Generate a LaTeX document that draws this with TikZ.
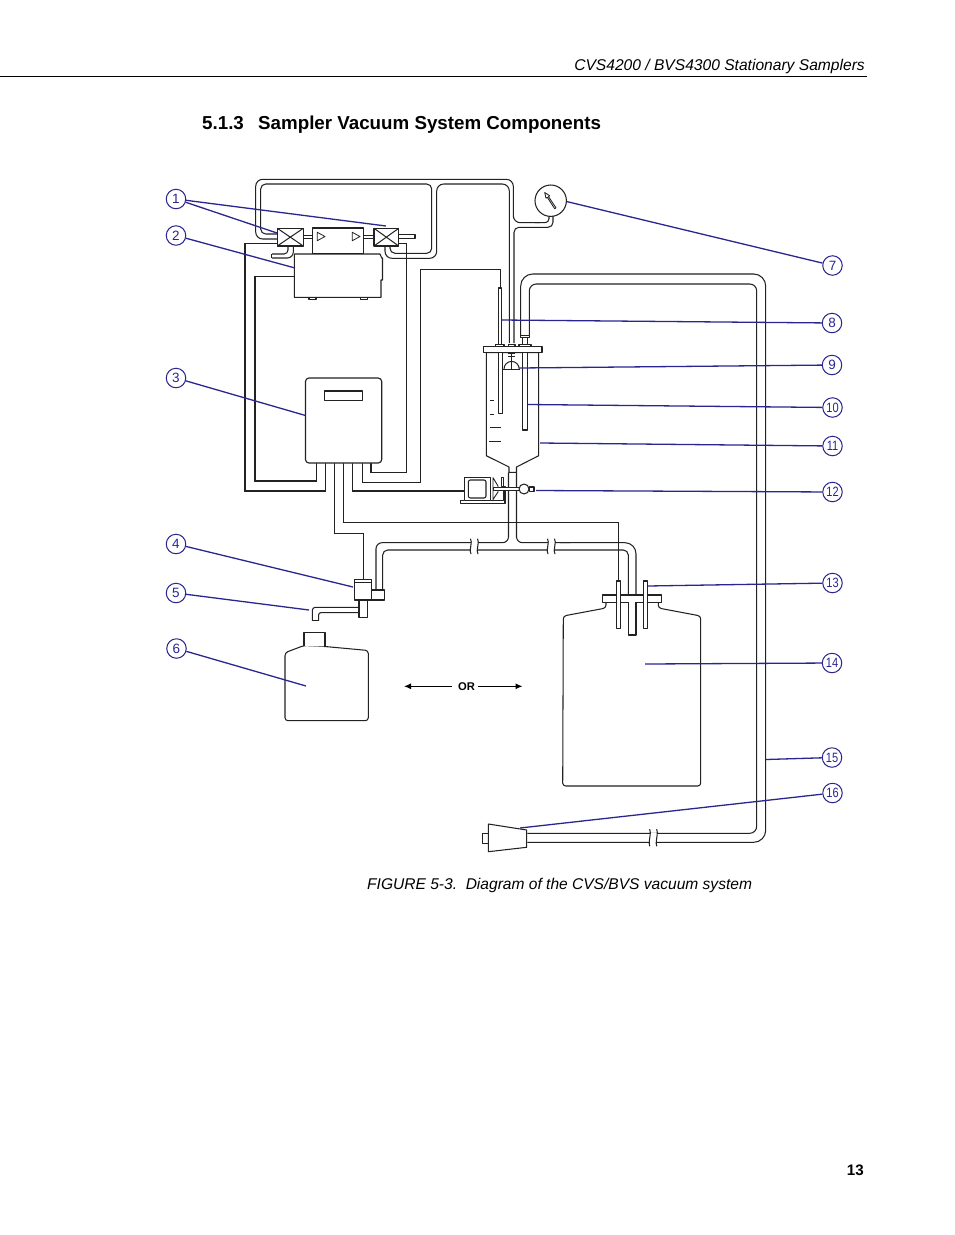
\documentclass[tikz,border=0pt]{standalone}
\usepackage{fontspec}
\setmainfont{Liberation Sans}
\usetikzlibrary{arrows.meta}
\definecolor{leadblue}{HTML}{2A2690}
\definecolor{ink}{HTML}{222222}
\newcommand{\pipebreak}[3]{%
  \fill[white] (#1+1,#2-0.5) rectangle (#1+8,#3+0.5);
  \draw[pipe] (#1+1,#2-4) .. controls (#1+3.5,#2-1) and (#1-1,#3+1) .. (#1+1.5,#3+4);
  \draw[pipe] (#1+8,#2-4) .. controls (#1+10.5,#2-1) and (#1+6,#3+1) .. (#1+8.5,#3+4);
}
\newcommand{\callout}[3]{\node[callnum] (#1) at (#2,#3) {\fontsize{13.5}{14}\selectfont\ifnum#1>9 \addfontfeature{FakeStretch=0.82}\fi\number#1};}
\tikzset{
  pipe/.style={draw=ink,line width=1.05pt,line join=round},
  wire/.style={draw=ink,line width=1.05pt,line join=miter},
  part/.style={draw=ink,line width=1.05pt,fill=white,line join=round},
  callnum/.style={circle,draw=leadblue,line width=1pt,minimum size=19.5pt,inner sep=0pt,text=leadblue,fill=white},
  leader/.style={draw=leadblue,line width=1.3pt},
  txt/.style={inner sep=0pt,text=black,anchor=base west}
}
\begin{document}
\begin{tikzpicture}[x=1pt,y=-1pt]
\useasboundingbox (0,0) rectangle (954,1235);
\fill[white] (0,0) rectangle (954,1235);
% page furniture
\draw[black,line width=0.9pt] (0,76.5) -- (867,76.5);
\node[txt,anchor=base east] (hdr) at (865,70.5) {\fontsize{15.6}{18}\selectfont\itshape CVS4200 / BVS4300 Stationary Samplers};
\node[txt] (secno) at (202,129) {\fontsize{18.75}{20}\selectfont\bfseries 5.1.3};
\node[txt] (sectitle) at (258,129) {\fontsize{18.75}{20}\selectfont\bfseries Sampler Vacuum System Components};
\node[txt] (caption) at (367,889.5) {\fontsize{15.56}{18}\selectfont\itshape FIGURE 5-3.\ \ Diagram of the CVS/BVS vacuum system};
\node[txt,anchor=base east] (pageno) at (864,1175) {\fontsize{15.2}{18}\selectfont\bfseries 13};

% wires from controller
\draw[wire] (277,243.3) -- (245,243.3) -- (245,491) -- (325.7,491) -- (325.7,463);
\draw[wire] (294.3,276.7) -- (255,276.7) -- (255,481) -- (316.7,481) -- (316.7,463);
\draw[wire] (398.7,243.3) -- (406.7,243.3) -- (406.7,472.7) -- (371,472.7) -- (371,463);
\draw[wire] (500.7,288) -- (500.7,269.3) -- (420.3,269.3) -- (420.3,482.3) -- (362.3,482.3) -- (362.3,463);
\draw[wire] (352.7,463) -- (352.7,491) -- (464,491);
\draw[wire] (343.3,463) -- (343.3,522.7) -- (618.7,522.7) -- (618.7,581);
\draw[wire] (334.3,463) -- (334.3,533.3) -- (363.3,533.3) -- (363.3,579.3);

% upper pipes
\draw[pipe,rounded corners=7pt] (277,239) -- (255.7,239) -- (255.7,179.3) -- (513.3,179.3) -- (513.3,222.7) -- (540,222.7);
\draw[pipe,rounded corners=4pt] (535,222.7) -- (549,222.7) -- (549,215);
\draw[pipe,rounded corners=5pt] (277,234) -- (260.7,234) -- (260.7,184) -- (431.7,184) -- (431.7,253.3) -- (390,253.3) -- (390,246);
\draw[pipe,rounded corners=7pt] (385,246) -- (385,258.3) -- (436.7,258.3) -- (436.7,184) -- (509.3,184) -- (509.3,343);
\draw[pipe,rounded corners=5pt] (553,215) -- (553,227.3) -- (514,227.3) -- (514,343);
\draw[pipe,rounded corners=4pt] (288,246) -- (288,254) -- (272,254);
\draw[pipe,rounded corners=6pt] (293.3,246) -- (293.3,258) -- (272,258);
\draw[pipe] (271.7,254) -- (271.7,258);

% valves, pump
\draw[pipe] (303.3,235.7) -- (312.3,235.7) (303.3,238.5) -- (312.3,238.5);
\draw[pipe] (363.3,235.7) -- (374,235.7) (363.3,238.5) -- (374,238.5);
\draw[part] (398.7,234.8) -- (415,234.8) -- (415,238.5) -- (398.7,238.5);
\foreach \xa/\xb/\nm in {277.3/303.3/a,374/398.7/b}{
  \draw[part,line width=1.2pt] (\xa,228.3) rectangle (\xb,246);
  \draw[ink,line width=1pt] (\xa,228.3) -- (\xb,246) (\xa,246) -- (\xb,228.3);
}
\draw[part] (312.3,228) rectangle (363.3,254);
\draw[part,line width=0.8pt] (317.3,232.3) -- (325,236.5) -- (317.3,240.7) -- cycle;
\draw[part,line width=0.8pt] (352.3,232.3) -- (360,236.5) -- (352.3,240.7) -- cycle;
% pump housing
\draw[part] (309,297.3) -- (309,299.5) -- (316,299.5) -- (316,297.3) (360.5,297.3) -- (360.5,299.5) -- (367.5,299.5) -- (367.5,297.3);
\draw[part] (294.3,254) -- (380,254) -- (381.7,258) -- (382.5,258) -- (382.5,280) -- (381,280) -- (381,297.3) -- (294.3,297.3) -- cycle;
% controller
\draw[part,line width=1.15pt,rounded corners=3.5pt] (305.5,378) rectangle (381.7,463);
\draw[part] (324.7,391) rectangle (362.5,400.7);

% gauge
\draw[part] (550.7,200.7) circle (15.7);
\draw[part,line width=0.85pt] (554.7,208.8) -- (547.3,197.3) -- (546,198.2) -- (544.7,192.5) -- (549.6,195.7) -- (548.5,196.6) -- (556,207.8) -- cycle;

% sampling chamber
\draw[part] (486.3,352.7) -- (486.3,455.7) -- (509,467) -- (509,472.3) -- (516.5,472.3) -- (516.5,467) -- (538.7,455.7) -- (538.7,352.7) -- cycle;
\draw[part] (498.7,345) -- (498.7,288) -- (501.7,288) -- (501.7,345);
\draw[part] (498.5,352.7) -- (498.5,413.5) -- (502.3,413.5) -- (502.3,352.7);
\draw[part] (522.7,352.7) -- (522.7,430) -- (527.7,430) -- (527.7,352.7);
\foreach \yy/\xa/\xb in {400.3/490/494.3,414/490/494.3,427.7/490/500.7,441.3/489.3/500.7}{
  \draw[ink,line width=1pt] (\xa,\yy) -- (\xb,\yy);
}
% float
\draw[ink,line width=1pt] (504,369) arc[start angle=180,end angle=360,radius=7.6];
\draw[ink,line width=1pt] (508.3,353.5) -- (515,353.5) (508.3,356) -- (515,356);
\draw[ink,line width=1.8pt] (502.5,369.5) -- (520,369.5);
\draw[ink,line width=1pt] (511.7,352.7) -- (511.7,369.5);
% lid & nubs
\draw[part] (495.7,344.3) rectangle (504,346.7);
\draw[part] (508.3,344.3) rectangle (515,346.7);
\draw[part] (519,344.3) rectangle (531,346.7);
\draw[part] (483.3,346.7) rectangle (542,352.7);

% big hose
\draw[pipe,rounded corners=12pt] (520.7,335.7) -- (520.7,274) -- (765.7,274) -- (765.7,842.3) -- (527.3,842.3);
\draw[pipe,rounded corners=7pt] (529.3,335.7) -- (529.3,284) -- (756.7,284) -- (756.7,833.3) -- (527.3,833.3);
\draw[part] (520.7,335.7) rectangle (529.3,337.5);
\draw[part] (522.3,337.5) -- (522.3,344.3) (527.7,337.5) -- (527.7,344.3);
\pipebreak{648.5}{833.3}{842.3}
% nozzle
\draw[part] (482.3,833.3) rectangle (488.3,843.3);
\draw[part] (488.3,824) -- (526.7,830) -- (526.7,847.3) -- (488.3,851.7) -- cycle;

% stem and T
\draw[pipe,rounded corners=6pt] (508.5,472.3) -- (508.5,542.7) -- (388,542.7) -- (376,542.7) -- (376,590);
\draw[pipe,rounded corners=6pt] (516.5,472.3) -- (516.5,542.7) -- (570,542.7);
\draw[pipe,rounded corners=11pt] (560,542.7) -- (636,542.7) -- (636,635);
\draw[pipe,rounded corners=5pt] (382.7,590) -- (382.7,550) -- (628.3,550) -- (628.3,635);
\pipebreak{469.5}{542.7}{550}
\pipebreak{546.5}{542.7}{550}

% valve 12 assembly
\draw[part] (460.7,500.7) rectangle (505,503.3);
\draw[part] (503.2,486.7) rectangle (505,500.7);
\draw[part] (464.3,477.3) rectangle (490.7,500.7);
\draw[part,rounded corners=2pt] (468.3,480) rectangle (486,498);
\draw[part,line width=0.9pt] (493,477.7) -- (498,486) -- (498,492) -- (493,499.5) -- cycle;
\draw[part,line width=0.9pt] (501,477) -- (503,477) -- (503,486) -- (501,486) -- cycle;
\draw[part,line width=0.9pt] (493,487.3) rectangle (520,490.7);
\draw[part] (524,489) circle (5);
\draw[part] (529.3,487) rectangle (534,491.3);

% solenoid and outlet
\draw[pipe,rounded corners=3pt] (359,607.3) -- (312.3,607.3) -- (312.3,620.7);
\draw[pipe,rounded corners=2pt] (359,612.7) -- (318.7,612.7) -- (318.7,620.7);
\draw[pipe] (312.3,620.7) -- (318.7,620.7);
\draw[part] (359,600) rectangle (367.7,617.3);
\draw[part,line width=1.2pt] (354.7,579.3) rectangle (371.7,600);
\draw[ink,line width=1pt] (354.7,582.3) -- (371.7,582.3);
\draw[part,line width=1.2pt] (371.7,590) rectangle (384.3,600);

% jar
\draw[part,rounded corners=3pt] (285,720.7) -- (285,652.7) -- (304,645.5) -- (325,646.5) -- (368.3,650.5) -- (368.3,720.7) -- cycle;
\draw[part] (304,646) -- (304,632.7) -- (325,632.7) -- (325,646.5);

% large bottle
\draw[part,rounded corners=3pt] (606,602.3) -- (606,608) -- (563.3,616) -- (562.7,786) -- (700.7,786) -- (700.7,616) -- (658.3,608) -- (658.3,602.3);
\draw[part] (602.7,595) rectangle (661.7,602.3);
\draw[part] (628.3,602.3) -- (628.3,635) -- (636,635) -- (636,602.3);
\draw[part] (616.7,581) rectangle (620.7,628.3);
\draw[part] (643.3,581) rectangle (647.3,628.3);

% OR arrows
\node[inner sep=0pt] (orlabel) at (466.5,686.8) {\fontsize{11.2}{12}\selectfont\bfseries OR};
\coordinate (orleft) at (404,686.3);
\coordinate (orright) at (522.5,686.3);
\draw[black,line width=1pt,-{Latex[length=7pt,width=6pt]}] (orlabel.west) ++(-6,-0.5) -- (orleft);
\draw[black,line width=1pt,-{Latex[length=7pt,width=6pt]}] (orlabel.east) ++(3,-0.5) -- (orright);

% callouts
\callout{1}{176}{199}
\callout{2}{176}{235.5}
\callout{3}{176}{378}
\callout{4}{176}{544}
\callout{5}{176}{593}
\callout{6}{176.5}{648.5}
\callout{7}{832.5}{265.5}
\callout{8}{832}{323}
\callout{9}{832}{365}
\callout{10}{832.5}{407.5}
\callout{11}{832.5}{446}
\callout{12}{832.5}{492}
\callout{13}{832.5}{583}
\callout{14}{832}{663}
\callout{15}{832}{757.5}
\callout{16}{832.5}{793}
\coordinate (e1a) at (277,233);
\coordinate (e1b) at (386,226);
\coordinate (e2) at (295,268);
\coordinate (e3) at (305.5,415.5);
\coordinate (e4) at (353,587);
\coordinate (e5) at (309,610);
\coordinate (e6) at (306,686);
\coordinate (e7) at (566.5,201.5);
\coordinate (e8) at (501.7,320);
\coordinate (e9) at (519,368);
\coordinate (e10) at (527.7,404.5);
\coordinate (e11) at (540,443);
\coordinate (e12) at (536,490.5);
\coordinate (e13) at (647.5,586);
\coordinate (e14) at (645,664);
\coordinate (e15) at (766,759.5);
\coordinate (e16) at (520,828);
\draw[leader] (1) -- (e1a);
\draw[leader] (1) -- (e1b);
\foreach \n/\t in {2/e2,3/e3,4/e4,5/e5,6/e6,7/e7,8/e8,9/e9,10/e10,11/e11,12/e12,13/e13,14/e14,15/e15,16/e16}{
  \draw[leader] (\n) -- (\t);
}
\end{tikzpicture}
\end{document}
